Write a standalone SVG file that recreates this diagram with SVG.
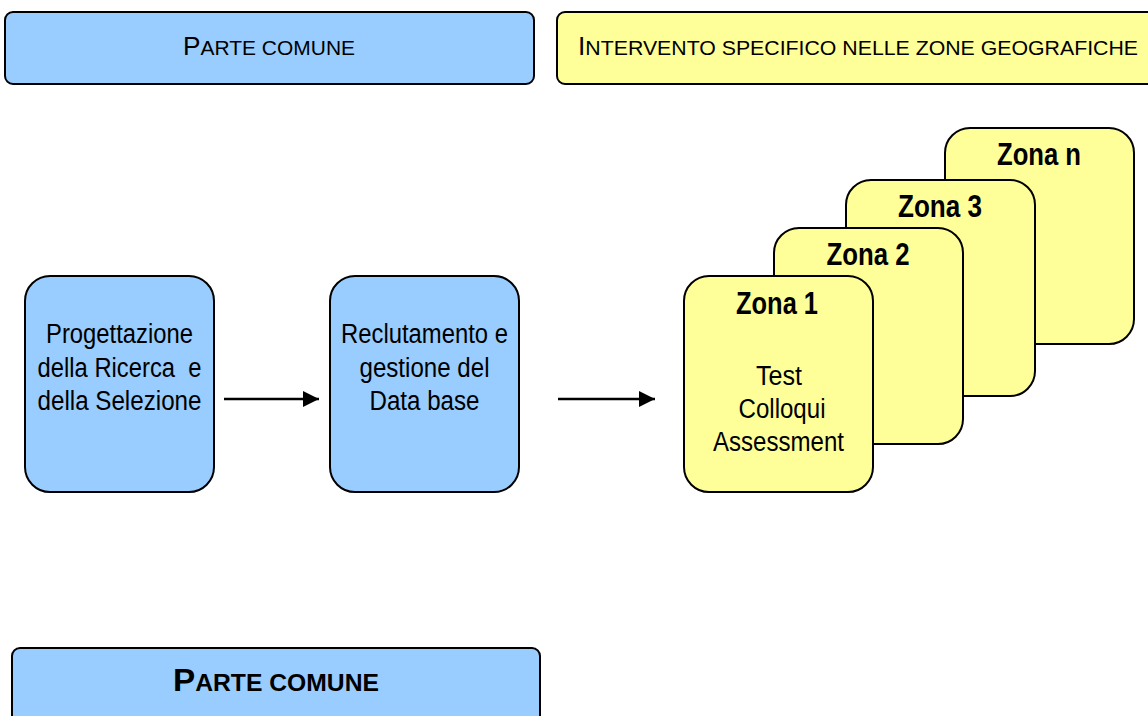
<svg xmlns="http://www.w3.org/2000/svg" width="1148" height="716" viewBox="0 0 1148 716">
<defs>
<style>
.blue{fill:#99CCFF;stroke:#000;stroke-width:2}
.yel{fill:#FFFF99;stroke:#000;stroke-width:2}
.hd{font-family:"Liberation Sans",Arial,sans-serif;fill:#000}
.body{font-family:"Liberation Sans",Arial,sans-serif;font-size:27px;fill:#000;text-anchor:middle}
.zona{font-family:"Liberation Sans",Arial,sans-serif;font-size:31px;font-weight:bold;fill:#000;text-anchor:middle}
.conn{stroke:#000;stroke-width:2.5;fill:none}
</style>
<marker id="arr" markerWidth="16" markerHeight="16" refX="16" refY="8" orient="auto" markerUnits="userSpaceOnUse">
<path d="M0,0 L16,8 L0,16 Z" fill="#000"/>
</marker>
</defs>
<rect width="1148" height="716" fill="#fff"/>

<g id="header-comune">
<rect class="blue" x="5" y="12" width="529" height="72" rx="8"/>
<text class="hd" x="183" y="55" textLength="172" lengthAdjust="spacingAndGlyphs"><tspan font-size="25">P</tspan><tspan font-size="20">ARTE COMUNE</tspan></text>
</g>

<g id="header-intervento">
<rect class="yel" x="557" y="12" width="620" height="72" rx="8"/>
<text class="hd" x="578" y="55" textLength="560" lengthAdjust="spacingAndGlyphs"><tspan font-size="26">I</tspan><tspan font-size="21">NTERVENTO SPECIFICO NELLE ZONE GEOGRAFICHE</tspan></text>
</g>

<g id="progettazione">
<rect class="blue" x="25" y="276" width="189" height="216" rx="25"/>
<text class="body" x="119.5" y="343" textLength="147" lengthAdjust="spacingAndGlyphs">Progettazione</text>
<text class="body" x="119.5" y="377" textLength="164" lengthAdjust="spacingAndGlyphs" xml:space="preserve">della Ricerca  e</text>
<text class="body" x="119.5" y="410" textLength="164" lengthAdjust="spacingAndGlyphs">della Selezione</text>
</g>

<g id="reclutamento">
<rect class="blue" x="330" y="276" width="189" height="216" rx="25"/>
<text class="body" x="424.5" y="343" textLength="167" lengthAdjust="spacingAndGlyphs">Reclutamento e</text>
<text class="body" x="424.5" y="377" textLength="130" lengthAdjust="spacingAndGlyphs">gestione del</text>
<text class="body" x="424.5" y="410" textLength="110" lengthAdjust="spacingAndGlyphs">Data base</text>
</g>

<g id="zona-n">
<rect class="yel" x="945" y="128" width="189" height="216" rx="25"/>
<text class="zona" x="1039" y="165" textLength="84" lengthAdjust="spacingAndGlyphs">Zona n</text>
</g>

<g id="zona-3">
<rect class="yel" x="846" y="180" width="189" height="216" rx="25"/>
<text class="zona" x="940" y="217" textLength="84" lengthAdjust="spacingAndGlyphs">Zona 3</text>
</g>

<g id="zona-2">
<rect class="yel" x="774" y="228" width="189" height="216" rx="25"/>
<text class="zona" x="868" y="265" textLength="83" lengthAdjust="spacingAndGlyphs">Zona 2</text>
</g>

<g id="zona-1">
<rect class="yel" x="684" y="276" width="189" height="216" rx="25"/>
<text class="zona" x="777" y="314" textLength="82" lengthAdjust="spacingAndGlyphs">Zona 1</text>
<text class="body" x="779" y="385" textLength="46" lengthAdjust="spacingAndGlyphs">Test</text>
<text class="body" x="782" y="418" textLength="87" lengthAdjust="spacingAndGlyphs">Colloqui</text>
<text class="body" x="778.5" y="451" textLength="131" lengthAdjust="spacingAndGlyphs">Assessment</text>
</g>

<g id="footer-comune">
<rect class="blue" x="12" y="648" width="528" height="90" rx="8"/>
<text class="hd" x="173" y="691" font-weight="bold" textLength="206" lengthAdjust="spacingAndGlyphs"><tspan font-size="31">P</tspan><tspan font-size="23">ARTE COMUNE</tspan></text>
</g>

<g id="connectors">
<line class="conn" x1="224" y1="399" x2="319" y2="399" marker-end="url(#arr)"/>
<line class="conn" x1="558" y1="399" x2="655" y2="399" marker-end="url(#arr)"/>
</g>
</svg>
